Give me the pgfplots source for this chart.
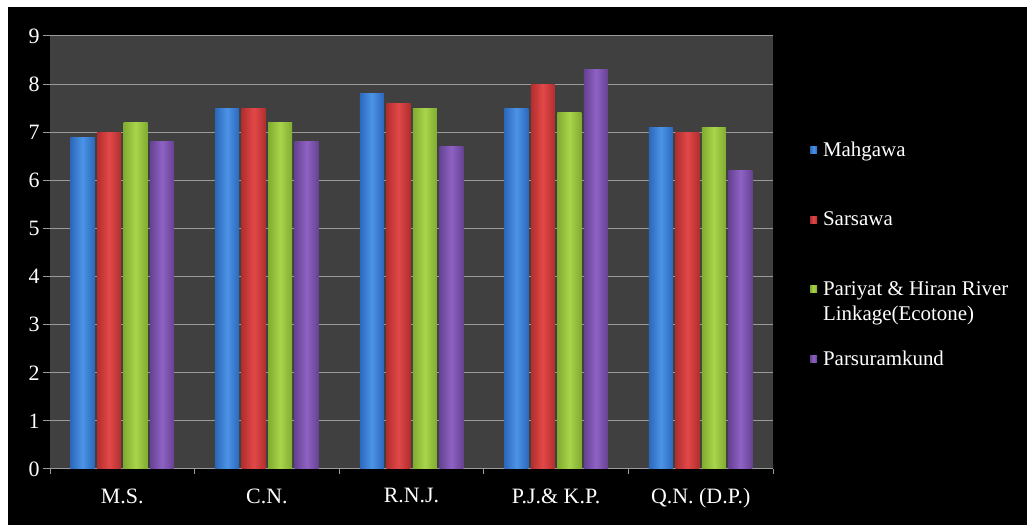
\documentclass[border=0pt]{standalone}
\usepackage{pgfplots}
\pgfplotsset{compat=1.18}
\usepackage{fontspec}
\setmainfont{Liberation Serif}
\definecolor{plotbg}{HTML}{404040}
\definecolor{gridc}{HTML}{9A9A9A}
\definecolor{bluA}{HTML}{2C68BC}\definecolor{bluB}{HTML}{4C94E6}
\definecolor{redA}{HTML}{B22E2E}\definecolor{redB}{HTML}{E24848}
\definecolor{grnA}{HTML}{80AC30}\definecolor{grnB}{HTML}{AAD44C}
\definecolor{purA}{HTML}{664292}\definecolor{purB}{HTML}{8E62C4}
\pgfplotsset{
  sblu/.style={ybar, bar width=24bp, bar shift=-39.75bp, draw=none, left color=bluA, right color=bluA, middle color=bluB},
  sred/.style={ybar, bar width=24bp, bar shift=-13.25bp, draw=none, left color=redA, right color=redA, middle color=redB},
  sgrn/.style={ybar, bar width=24bp, bar shift=13.25bp, draw=none, left color=grnA, right color=grnA, middle color=grnB},
  spur/.style={ybar, bar width=24bp, bar shift=39.75bp, draw=none, left color=purA, right color=purA, middle color=purB},
}
\begin{document}
\begin{tikzpicture}[x=1bp,y=1bp]
\fill[white] (0,0) rectangle (1027,525);
\fill[black] (8,0) rectangle (1027,518);
\begin{axis}[
  at={(50bp,56bp)}, anchor=south west,
  scale only axis, width=723bp, height=433bp,
  xmin=-0.5, xmax=4.5, ymin=0, ymax=9,
  xtick={-0.5,0.5,1.5,2.5,3.5,4.5},
  xticklabels={M.S.,C.N.,R.N.J.,P.J.\& K.P.,Q.N. (D.P.)},
  x tick label as interval,
  ytick={0,1,2,3,4,5,6,7,8,9},
  ymajorgrids, grid style={gridc, line width=1bp},
  axis background/.style={fill=plotbg},
  axis x line*=bottom, axis y line*=left,
  x axis line style={gridc, line width=1bp, -},
  y axis line style={draw=none},
  tick align=outside,
  major tick length=7bp,
  xtick style={gridc, line width=1bp, /pgfplots/major tick length=5bp},
  ytick style={gridc, line width=1bp},
  /pgf/number format/assume math mode=true,
  ticklabel style={text=white},
  yticklabel style={font=\fontsize{22}{24}\selectfont},
  xticklabel style={font=\fontsize{22}{24}\selectfont, yshift=-9bp},
  legend style={at={(1.051,0.76)}, anchor=north west, draw=none, fill=none,
    text=white, font=\fontsize{21}{24}\selectfont, row sep=50bp,
    inner sep=0pt, nodes={inner sep=2bp}},
  legend cell align=left,
  legend image code/.code={\fill[#1] (0bp,-3.5bp) rectangle (7bp,3.5bp);},
]
% Mahgawa
\addplot[sblu] coordinates {(0,6.9)};
\addplot[sblu, forget plot] coordinates {(1,7.5)};
\addplot[sblu, forget plot] coordinates {(2,7.8)};
\addplot[sblu, forget plot] coordinates {(3,7.5)};
\addplot[sblu, forget plot] coordinates {(4,7.1)};
% Sarsawa
\addplot[sred] coordinates {(0,7.0)};
\addplot[sred, forget plot] coordinates {(1,7.5)};
\addplot[sred, forget plot] coordinates {(2,7.6)};
\addplot[sred, forget plot] coordinates {(3,8.0)};
\addplot[sred, forget plot] coordinates {(4,7.0)};
% Pariyat & Hiran River Linkage (Ecotone)
\addplot[sgrn] coordinates {(0,7.2)};
\addplot[sgrn, forget plot] coordinates {(1,7.2)};
\addplot[sgrn, forget plot] coordinates {(2,7.5)};
\addplot[sgrn, forget plot] coordinates {(3,7.4)};
\addplot[sgrn, forget plot] coordinates {(4,7.1)};
% Parsuramkund
\addplot[spur] coordinates {(0,6.8)};
\addplot[spur, forget plot] coordinates {(1,6.8)};
\addplot[spur, forget plot] coordinates {(2,6.7)};
\addplot[spur, forget plot] coordinates {(3,8.3)};
\addplot[spur, forget plot] coordinates {(4,6.2)};
\legend{\hspace{4bp}Mahgawa, \hspace{4bp}Sarsawa, {\hspace{4bp}\makebox[0pt][l]{\raisebox{-25bp}[0pt][0pt]{Linkage(Ecotone)}}Pariyat \& Hiran River}, \hspace{4bp}Parsuramkund}
\end{axis}
\pgfresetboundingbox
\path (0,0) rectangle (1027,525);
\end{tikzpicture}
\end{document}
